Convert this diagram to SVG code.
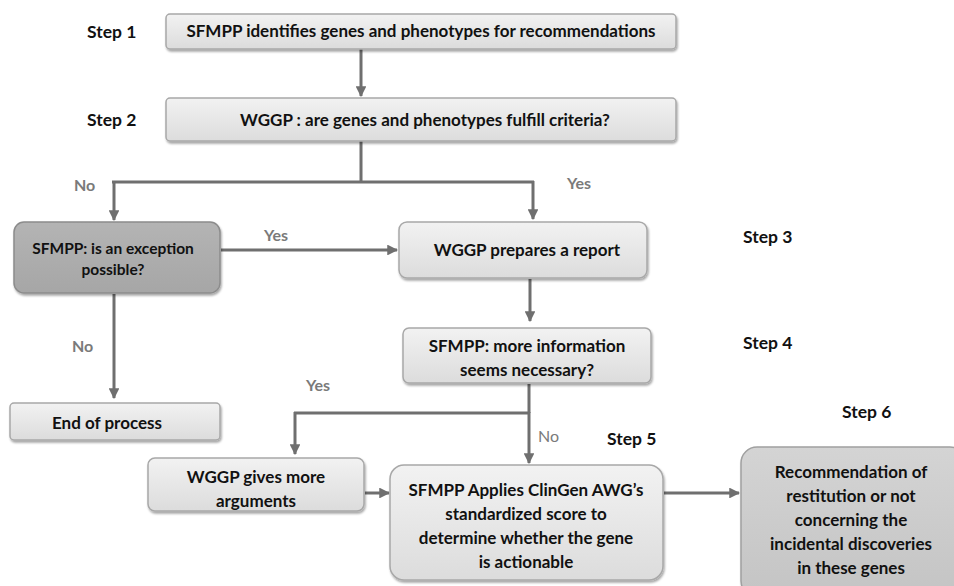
<svg xmlns="http://www.w3.org/2000/svg" width="954" height="586" viewBox="0 0 954 586">
<defs>
<linearGradient id="gLight" x1="0" y1="0" x2="0" y2="1">
<stop offset="0" stop-color="#f2f2f2"/>
<stop offset="1" stop-color="#dcdcdc"/>
</linearGradient>
<linearGradient id="gDark" x1="0" y1="0" x2="0" y2="1">
<stop offset="0" stop-color="#b4b4b4"/>
<stop offset="1" stop-color="#a6a6a6"/>
</linearGradient>
<linearGradient id="gMid" x1="0" y1="0" x2="0" y2="1">
<stop offset="0" stop-color="#d4d4d4"/>
<stop offset="1" stop-color="#c4c4c4"/>
</linearGradient>
<filter id="sh" x="-10%" y="-10%" width="120%" height="130%">
<feDropShadow dx="1" dy="2" stdDeviation="1.2" flood-color="#000" flood-opacity="0.35"/>
</filter>
<marker id="ah" viewBox="0 0 10 10" refX="9" refY="5" markerWidth="3.6" markerHeight="3.6" orient="auto" markerUnits="strokeWidth">
<path d="M0,0 L10,5 L0,10 Z" fill="#6f6f6f"/>
</marker>
</defs>
<style>
.box{fill:url(#gLight);stroke:#a8a8a8;stroke-width:1.5;filter:url(#sh)}
.dark{fill:url(#gDark);stroke:#8c8c8c;stroke-width:1.5;filter:url(#sh)}
.mid{fill:url(#gMid);stroke:#a0a0a0;stroke-width:1.5;filter:url(#sh)}
.t{font-family:Lato,"Open Sans","Liberation Sans",sans-serif;font-weight:bold;font-size:15.5px;fill:#111;text-anchor:middle}
.big{font-size:17px}
.step{font-family:Lato,"Open Sans","Liberation Sans",sans-serif;font-weight:bold;font-size:17.5px;fill:#111}
.lab{font-family:Lato,"Open Sans","Liberation Sans",sans-serif;font-weight:bold;font-size:16px;fill:#7a7a7a}
.c{fill:none;stroke:#6f6f6f;stroke-width:3}
.ca{fill:none;stroke:#6f6f6f;stroke-width:3;marker-end:url(#ah)}
</style>
<rect width="954" height="586" fill="#fff"/>

<g id="connectors">
<path class="ca" d="M361,49 V96"/>
<path class="c" d="M361,141 V182 M112,182 H534"/>
<path class="ca" d="M114,181 V220"/>
<path class="ca" d="M533,181 V219"/>
<path class="ca" d="M221,250 H397"/>
<path class="ca" d="M114,294 V398"/>
<path class="ca" d="M530,279 V321"/>
<path class="c" d="M529,384 V413 M294,413 H530"/>
<path class="ca" d="M295,412 V454"/>
<path class="ca" d="M529,412 V463"/>
<path class="ca" d="M365,493 H389"/>
<path class="ca" d="M664,493 H739"/>
</g>

<g id="step-labels">
<text class="step" x="87" y="38">Step 1</text>
<text class="step" x="87" y="126">Step 2</text>
<text class="step" x="743" y="243">Step 3</text>
<text class="step" x="743" y="349">Step 4</text>
<text class="step" x="607" y="445">Step 5</text>
<text class="step" x="842" y="418">Step 6</text>
</g>

<g id="edge-labels">
<text class="lab" x="74" y="191">No</text>
<text class="lab" x="567" y="189">Yes</text>
<text class="lab" x="264" y="241">Yes</text>
<text class="lab" x="72" y="352">No</text>
<text class="lab" x="306" y="391">Yes</text>
<text class="lab" x="538" y="442" style="font-weight:normal">No</text>
</g>

<g id="n1">
<rect class="box" x="166" y="14" width="510" height="35" rx="4"/>
<text class="t big" x="421" y="37">SFMPP identifies genes and phenotypes for recommendations</text>
</g>
<g id="n2">
<rect class="box" x="166" y="98" width="510" height="43" rx="4"/>
<text class="t big" x="425" y="126">WGGP : are genes and phenotypes fulfill criteria?</text>
</g>
<g id="n-exception">
<rect class="dark" x="14" y="222" width="206" height="71" rx="10"/>
<text class="t" x="113" y="254">SFMPP: is an exception</text>
<text class="t" x="113" y="275">possible?</text>
</g>
<g id="n-report">
<rect class="box" x="399" y="222" width="248" height="56" rx="8"/>
<text class="t big" x="527" y="256">WGGP prepares a report</text>
</g>
<g id="n-end">
<rect class="box" x="10" y="403" width="210" height="37" rx="4"/>
<text class="t big" x="107" y="429">End of process</text>
</g>
<g id="n-moreinfo">
<rect class="box" x="403" y="328" width="248" height="55" rx="6"/>
<text class="t big" x="527" y="352">SFMPP: more information</text>
<text class="t big" x="527" y="376">seems necessary?</text>
</g>
<g id="n-arguments">
<rect class="box" x="148" y="458" width="216" height="53" rx="7"/>
<text class="t big" x="256" y="483">WGGP gives more</text>
<text class="t big" x="256" y="507">arguments</text>
</g>
<g id="n-score">
<rect class="box" x="390" y="465" width="273" height="115" rx="14"/>
<text class="t big" x="526" y="496">SFMPP Applies ClinGen AWG’s</text>
<text class="t big" x="526" y="520">standardized score to</text>
<text class="t big" x="526" y="544">determine whether the gene</text>
<text class="t big" x="526" y="568">is actionable</text>
</g>
<g id="n-recommendation">
<rect class="mid" x="741" y="447" width="225" height="150" rx="16"/>
<text class="t big" x="851" y="478">Recommendation of</text>
<text class="t big" x="851" y="502">restitution or not</text>
<text class="t big" x="851" y="526">concerning the</text>
<text class="t big" x="851" y="550">incidental discoveries</text>
<text class="t big" x="851" y="574">in these genes</text>
</g>
</svg>
